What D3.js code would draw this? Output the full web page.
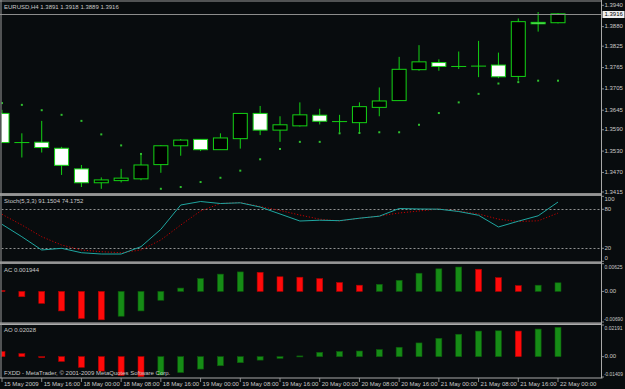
<!DOCTYPE html>
<html>
<head>
<meta charset="utf-8">
<script src="https://cdn.jsdelivr.net/npm/d3@7"></script>
<style>
  body { margin: 0; background: #080c0e; }
  svg { display: block; font-family: "Liberation Sans", Arial, sans-serif; }
</style>
</head>
<body>
<svg width="625" height="389"></svg>
<script>
// bar times (H4)
const barTimes = [
  "15 May 08:00", "15 May 12:00", "15 May 16:00", "15 May 20:00",
  "18 May 00:00", "18 May 04:00", "18 May 08:00", "18 May 12:00", "18 May 16:00", "18 May 20:00",
  "19 May 00:00", "19 May 04:00", "19 May 08:00", "19 May 12:00", "19 May 16:00", "19 May 20:00",
  "20 May 00:00", "20 May 04:00", "20 May 08:00", "20 May 12:00", "20 May 16:00", "20 May 20:00",
  "21 May 00:00", "21 May 04:00", "21 May 08:00", "21 May 12:00", "21 May 16:00", "21 May 20:00",
  "22 May 00:00"
];
const openPrices = [1.3636, 1.3554, 1.3555, 1.3538, 1.3480, 1.3441, 1.3447, 1.3452, 1.3492, 1.3545,
  1.3563, 1.3534, 1.3565, 1.3636, 1.3589, 1.3601, 1.3631, 1.3613, 1.3610, 1.3653,
  1.3672, 1.3759, 1.3779, 1.3768, 1.3769, 1.3772, 1.3740, 1.3892, 1.3891];
const highPrices = [1.3646, 1.3580, 1.3615, 1.3542, 1.3491, 1.3456, 1.3480, 1.3524, 1.3547, 1.3564,
  1.3564, 1.3580, 1.3637, 1.3657, 1.3628, 1.3667, 1.3649, 1.3632, 1.3667, 1.3709,
  1.3795, 1.3828, 1.3788, 1.3810, 1.3840, 1.3807, 1.3903, 1.3921, 1.3918];
const lowPrices = [1.3553, 1.3512, 1.3526, 1.3463, 1.3429, 1.3424, 1.3442, 1.3448, 1.3469, 1.3517,
  1.3530, 1.3534, 1.3537, 1.3575, 1.3556, 1.3599, 1.3605, 1.3582, 1.3582, 1.3628,
  1.3671, 1.3756, 1.3756, 1.3761, 1.3738, 1.3735, 1.3728, 1.3866, 1.3889];
const closePrices = [1.3554, 1.3554, 1.3540, 1.3490, 1.3441, 1.3449, 1.3454, 1.3491, 1.3545, 1.3561,
  1.3534, 1.3567, 1.3636, 1.3589, 1.3604, 1.3632, 1.3614, 1.3613, 1.3655, 1.3671,
  1.3760, 1.3781, 1.3768, 1.3768, 1.3769, 1.3739, 1.3894, 1.3888, 1.3916];
const sarValues = [1.3665, 1.3660, 1.3645, 1.3632, 1.3615, 1.3577, 1.3546, 1.3522, 1.3424, 1.3429,
  1.3443, 1.3455, 1.3475, 1.3507, 1.3536, 1.3556, 1.3556, 1.3580, 1.3581, 1.3583,
  1.3583, 1.3604, 1.3637, 1.3667, 1.3691, 1.3720, 1.3724, 1.3728, 1.3728];
const stochMain = [56.9, 37.8, 17.4, 20.0, 13.2, 11.2, 11.2, 22.5, 49.2, 86.6,
  92.0, 88.9, 90.0, 83.5, 72.8, 62.0, 63.2, 62.5, 66.3, 69.4,
  81.2, 80.5, 80.2, 76.6, 70.8, 52.8, 61.7, 70.0, 91.1504];
const stochSignal = [72.3, 55.8, 37.8, 25.1, 17.4, 14.8, 13.2, 17.4, 32.8, 55.8,
  77.4, 88.9, 90.5, 84.3, 78.2, 71.2, 64.8, 62.0, 66.2, 69.7,
  74.3, 77.4, 80.5, 77.4, 72.8, 64.8, 61.2, 62.3, 74.1752];
const acValues = [0.0002, -0.0012, -0.0027, -0.0044, -0.0061, -0.0064, -0.0056, -0.0044, -0.0020, 0.00075,
  0.0029, 0.0039, 0.0044, 0.0043, 0.0033, 0.0032, 0.0029, 0.0020, 0.0014, 0.0016,
  0.0025, 0.0041, 0.0051, 0.0055, 0.0050, 0.0031, 0.0013, 0.0014, 0.001944];
const aoValues = [0.0035, 0.0021, -0.0005, -0.0033, -0.0074, -0.0100, -0.0131, -0.0138, -0.0127, -0.0110,
  -0.0086, -0.0063, -0.0042, -0.0024, -0.0012, 0.0005, 0.0030, 0.0036, 0.0039, 0.0049,
  0.0065, 0.0095, 0.0127, 0.0155, 0.0177, 0.0179, 0.0177, 0.0191, 0.02028];

// axis labels
const priceTicks = [1.3940, 1.3880, 1.3825, 1.3765, 1.3705, 1.3645, 1.3590, 1.3530, 1.3470, 1.3415];
const stochTicks = [100, 80, 20, 0];
const stochLevels = [80, 20];
const acRange = [-0.00690, 0.00625];
const aoRange = [-0.01409, 0.02191];
const timeTickBars = ["15 May 08:00", "15 May 16:00", "18 May 00:00", "18 May 08:00", "18 May 16:00",
  "19 May 00:00", "19 May 08:00", "19 May 16:00", "20 May 00:00", "20 May 08:00", "20 May 16:00",
  "21 May 00:00", "21 May 08:00", "21 May 16:00", "22 May 00:00"];
const timeTickLabels = ["15 May 2009", "15 May 16:00", "18 May 00:00", "18 May 08:00", "18 May 16:00",
  "19 May 00:00", "19 May 08:00", "19 May 16:00", "20 May 00:00", "20 May 08:00", "20 May 16:00",
  "21 May 00:00", "21 May 08:00", "21 May 16:00", "22 May 00:00"];

let axisX = 601.5,
  textColor = "#c8c8c8",
  lime = "#14d214",
  fontSize = 6;

let svg = d3.select("svg");
let bars = barTimes.map(function (t, i) {
  return { t: t, o: openPrices[i], h: highPrices[i], l: lowPrices[i], c: closePrices[i], sar: sarValues[i] };
});

let x = d3.scalePoint().domain(barTimes).range([2, 558]);
let y = d3.scaleLinear().domain([1.3415, 1.3940]).range([192, 5.3]);
let yStoch = d3.scaleLinear().domain([0, 100]).range([261.3, 196.3]);
let yAc = d3.scaleLinear().domain(acRange).range([322, 263.7]);
let yAo = d3.scaleLinear().domain(aoRange).range([377, 325]);

function clip(id, y0, y1) {
  svg.append("clipPath").attr("id", id).append("rect")
    .attr("x", 1.5).attr("y", y0).attr("width", axisX - 1.5).attr("height", y1 - y0);
  return svg.append("g").attr("clip-path", "url(#" + id + ")");
}

function label(g, tx, ty, txt, baseline) {
  return g.append("text")
    .attr("x", tx).attr("y", ty)
    .attr("dominant-baseline", baseline || "middle")
    .attr("font-size", fontSize)
    .attr("fill", textColor)
    .text(txt);
}

/* --------- MAIN: candles + SAR ---------*/
let main = clip("clipMain", 1.5, 193);

main.selectAll("line.wick").data(bars).enter().append("line")
  .attr("class", "wick")
  .attr("x1", function (d) { return x(d.t); })
  .attr("x2", function (d) { return x(d.t); })
  .attr("y1", function (d) { return y(d.h); })
  .attr("y2", function (d) { return y(d.l); })
  .attr("stroke", lime).attr("stroke-width", 1);

main.selectAll("rect.body").data(bars.filter(function (d) { return d.o !== d.c; })).enter().append("rect")
  .attr("class", "body")
  .attr("x", function (d) { return x(d.t) - 7; })
  .attr("width", 14)
  .attr("y", function (d) { return y(Math.max(d.o, d.c)); })
  .attr("height", function (d) { return Math.max(1, Math.abs(y(d.o) - y(d.c))); })
  .attr("fill", function (d) { return d.c > d.o ? "#000" : "#ffffff"; })
  .attr("stroke", lime).attr("stroke-width", 1);

main.selectAll("line.doji").data(bars.filter(function (d) { return d.o === d.c; })).enter().append("line")
  .attr("class", "doji")
  .attr("x1", function (d) { return x(d.t) - 7.5; })
  .attr("x2", function (d) { return x(d.t) + 7.5; })
  .attr("y1", function (d) { return y(d.c); })
  .attr("y2", function (d) { return y(d.c); })
  .attr("stroke", lime).attr("stroke-width", 1);

main.selectAll("rect.sar").data(bars).enter().append("rect")
  .attr("class", "sar")
  .attr("x", function (d) { return x(d.t) - 1; })
  .attr("y", function (d) { return y(d.sar) - 1; })
  .attr("width", 2).attr("height", 2)
  .attr("fill", "#2fbf2f");

// current price line
let last = bars[bars.length - 1];
svg.append("line")
  .attr("x1", 0).attr("x2", axisX)
  .attr("y1", Math.round(y(last.c)) + 0.5).attr("y2", Math.round(y(last.c)) + 0.5)
  .attr("stroke", "#8c8c8c").attr("stroke-width", 1);

label(svg, 4, 7.5, "EURUSD,H4 " + [last.o, last.h, last.l, last.c].map(d3.format(".4f")).join(" "));

/* --------- STOCHASTIC ---------*/
let stoch = clip("clipStoch", 195.7, 261.3);

stoch.selectAll("line.level").data(stochLevels).enter().append("line")
  .attr("x1", 1.5).attr("x2", axisX)
  .attr("y1", function (d) { return Math.round(yStoch(d)) + 0.5; })
  .attr("y2", function (d) { return Math.round(yStoch(d)) + 0.5; })
  .attr("stroke", "#b4b4b4").attr("stroke-width", 0.8).attr("stroke-dasharray", "2,2");

let stochLine = function (vals) {
  return d3.line()
    .x(function (d, i) { return x(barTimes[i]); })
    .y(function (d) { return yStoch(d); })(vals);
};

stoch.append("path").attr("d", stochLine(stochSignal))
  .attr("fill", "none").attr("stroke", "#c00000").attr("stroke-width", 1).attr("stroke-dasharray", "1.2,1.8");
stoch.append("path").attr("d", stochLine(stochMain))
  .attr("fill", "none").attr("stroke", "#1fa6a0").attr("stroke-width", 1);

label(svg, 4, 201, "Stoch(5,3,3) " + d3.format(".4f")(stochMain[stochMain.length - 1]) + " " +
  d3.format(".4f")(stochSignal[stochSignal.length - 1]));

/* --------- AC / AO HISTOGRAMS ---------*/
function histogram(id, vals, yScale, y0, y1) {
  let g = clip(id, y0, y1);
  g.selectAll("rect").data(vals).enter().append("rect")
    .attr("x", function (d, i) { return x(barTimes[i]) - 3; })
    .attr("width", 6)
    .attr("y", function (d) { return Math.min(yScale(d), yScale(0)); })
    .attr("height", function (d) { return Math.max(1, Math.abs(yScale(d) - yScale(0))); })
    .attr("fill", function (d, i) { return i > 0 && d > vals[i - 1] ? "#168c16" : "#ff0a0a"; })
    .attr("stroke", function (d, i) { return i > 0 && d > vals[i - 1] ? "#0b5a0b" : "#b00000"; })
    .attr("stroke-width", 0.6);
  return g;
}

histogram("clipAc", acValues, yAc, 263.7, 322);
label(svg, 4, 270, "AC " + d3.format(".6f")(acValues[acValues.length - 1]));

histogram("clipAo", aoValues, yAo, 325, 377);
label(svg, 4, 330.5, "AO " + d3.format(".5f")(aoValues[aoValues.length - 1]));
label(svg, 4, 373.5, "FXDD - MetaTrader, \u00a9 2001-2009 MetaQuotes Software Corp.");

/* --------- FRAMES / SEPARATORS ---------*/
[[193, 195.7], [261.3, 263.7], [322.3, 325]].forEach(function (s) {
  svg.append("rect").attr("x", 0).attr("y", s[0]).attr("width", axisX).attr("height", s[1] - s[0])
    .attr("fill", "#8a8a8a");
  svg.append("line").attr("x1", 0).attr("x2", axisX).attr("y1", s[1] - 0.5).attr("y2", s[1] - 0.5)
    .attr("stroke", "#b8b8b8").attr("stroke-width", 0.8);
});
svg.append("line").attr("x1", 0).attr("x2", axisX).attr("y1", 1).attr("y2", 1)
  .attr("stroke", "#9a9a9a").attr("stroke-width", 1);
svg.append("line").attr("x1", 1).attr("x2", 1).attr("y1", 0).attr("y2", 378)
  .attr("stroke", "#9a9a9a").attr("stroke-width", 1);
svg.append("line").attr("x1", axisX).attr("x2", axisX).attr("y1", 0).attr("y2", 378)
  .attr("stroke", "#a8a8a8").attr("stroke-width", 1);
svg.append("line").attr("x1", 0).attr("x2", axisX + 1).attr("y1", 378).attr("y2", 378)
  .attr("stroke", "#a8a8a8").attr("stroke-width", 1);

/* --------- RIGHT AXIS ---------*/
let right = svg.append("g");
function rightTicks(vals, yScale, fmt, pos) {
  vals.forEach(function (v, i) {
    let ty = yScale(v);
    right.append("line").attr("x1", axisX).attr("x2", axisX + 2.5).attr("y1", ty).attr("y2", ty)
      .attr("stroke", "#a8a8a8").attr("stroke-width", 0.8);
    let base = "middle";
    if (pos && pos[i] === "top") base = "hanging";
    if (pos && pos[i] === "bottom") base = "auto";
    let txt = fmt(v);
    let t = label(right, axisX + 3, ty + (base === "hanging" ? 0.8 : base === "auto" ? -1.5 : 0), txt, base);
    // shrink long labels so they stay inside the 625px frame
    if (txt.length > 7) t.attr("font-size", 4.8).attr("x", axisX + 2.5);
    else if (txt.length > 6) t.attr("font-size", 5.6).attr("textLength", 18).attr("lengthAdjust", "spacingAndGlyphs");
  });
}
let smallFmt = function (v) { return v === 0 ? "0.00" : d3.format(".5f")(v).replace("\u2212", "-"); };
rightTicks(priceTicks, y, d3.format(".4f"));
rightTicks(stochTicks, yStoch, d3.format("d"), ["top", "mid", "mid", "bottom"]);
rightTicks([acRange[1], 0, acRange[0]], yAc, smallFmt, ["top", "mid", "bottom"]);
rightTicks([aoRange[1], 0, aoRange[0]], yAo, smallFmt, ["top", "mid", "bottom"]);

// current price tag
let py = Math.round(y(last.c)) + 0.5;
right.append("rect").attr("x", axisX + 1).attr("y", py - 3.5).attr("width", 22).attr("height", 7).attr("fill", "#f0f0f0");
right.append("text").attr("x", axisX + 3).attr("y", py).attr("dominant-baseline", "middle")
  .attr("font-size", fontSize).attr("fill", "#000").text(d3.format(".4f")(last.c));

/* --------- TIME AXIS ---------*/
let bottom = svg.append("g");
timeTickBars.forEach(function (t, i) {
  let tx = x(t);
  bottom.append("line").attr("x1", tx).attr("x2", tx).attr("y1", 378).attr("y2", 382)
    .attr("stroke", "#a8a8a8").attr("stroke-width", 0.8);
  label(bottom, tx + 2, 384.5, timeTickLabels[i]);
});
</script>
</body>
</html>
